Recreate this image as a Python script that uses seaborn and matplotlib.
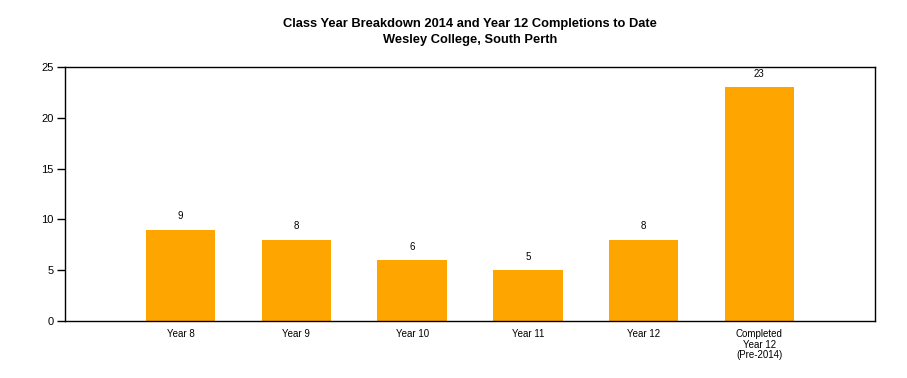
import seaborn as sns
import matplotlib.pyplot as plt

categories = ['Year 8', 'Year 9', 'Year 10', 'Year 11', 'Year 12', 'Completed\nYear 12\n(Pre-2014)']
counts     = [9, 8, 6, 5, 8, 23]
y_ticks    = [0, 5, 10, 15, 20, 25]
title      = 'Class Year Breakdown 2014 and Year 12 Completions to Date\nWesley College, South Perth'

sns.set_style('white')
plt.rcParams['font.family'] = ['Liberation Sans', 'DejaVu Sans']
plt.rcParams['text.color']  = 'black'
plt.rcParams['xtick.color'] = 'black'
plt.rcParams['ytick.color'] = 'black'

fig = plt.figure(figsize=(9.07, 3.78), dpi=100)
ax  = fig.add_axes([65 / 907, 1 - 321 / 378, 810 / 907, 254 / 378])

sns.barplot(x=categories, y=counts, color='#FFA500', saturation=1, width=0.6, ax=ax)
for patch in ax.patches:
    patch.set_edgecolor('none')

ax.bar_label(ax.containers[0], fmt='%d', padding=6, fontsize=7, color='black')

ax.set_xlim(-1, len(categories))
ax.set_ylim(0, 25)
ax.set_yticks(y_ticks)
ax.tick_params(axis='x', length=0, labelsize=7, pad=6)
ax.tick_params(axis='y', length=6, width=1, labelsize=8, left=True, pad=2)
for lbl in ax.get_xticklabels():
    lbl.set_linespacing(1.05)
for spine in ax.spines.values():
    spine.set_color('black')
    spine.set_linewidth(1)

ax.set_title(title, fontsize=9.3, fontweight='bold', pad=17, linespacing=1.5, color='black')

fig.savefig('out.png', dpi=100)
